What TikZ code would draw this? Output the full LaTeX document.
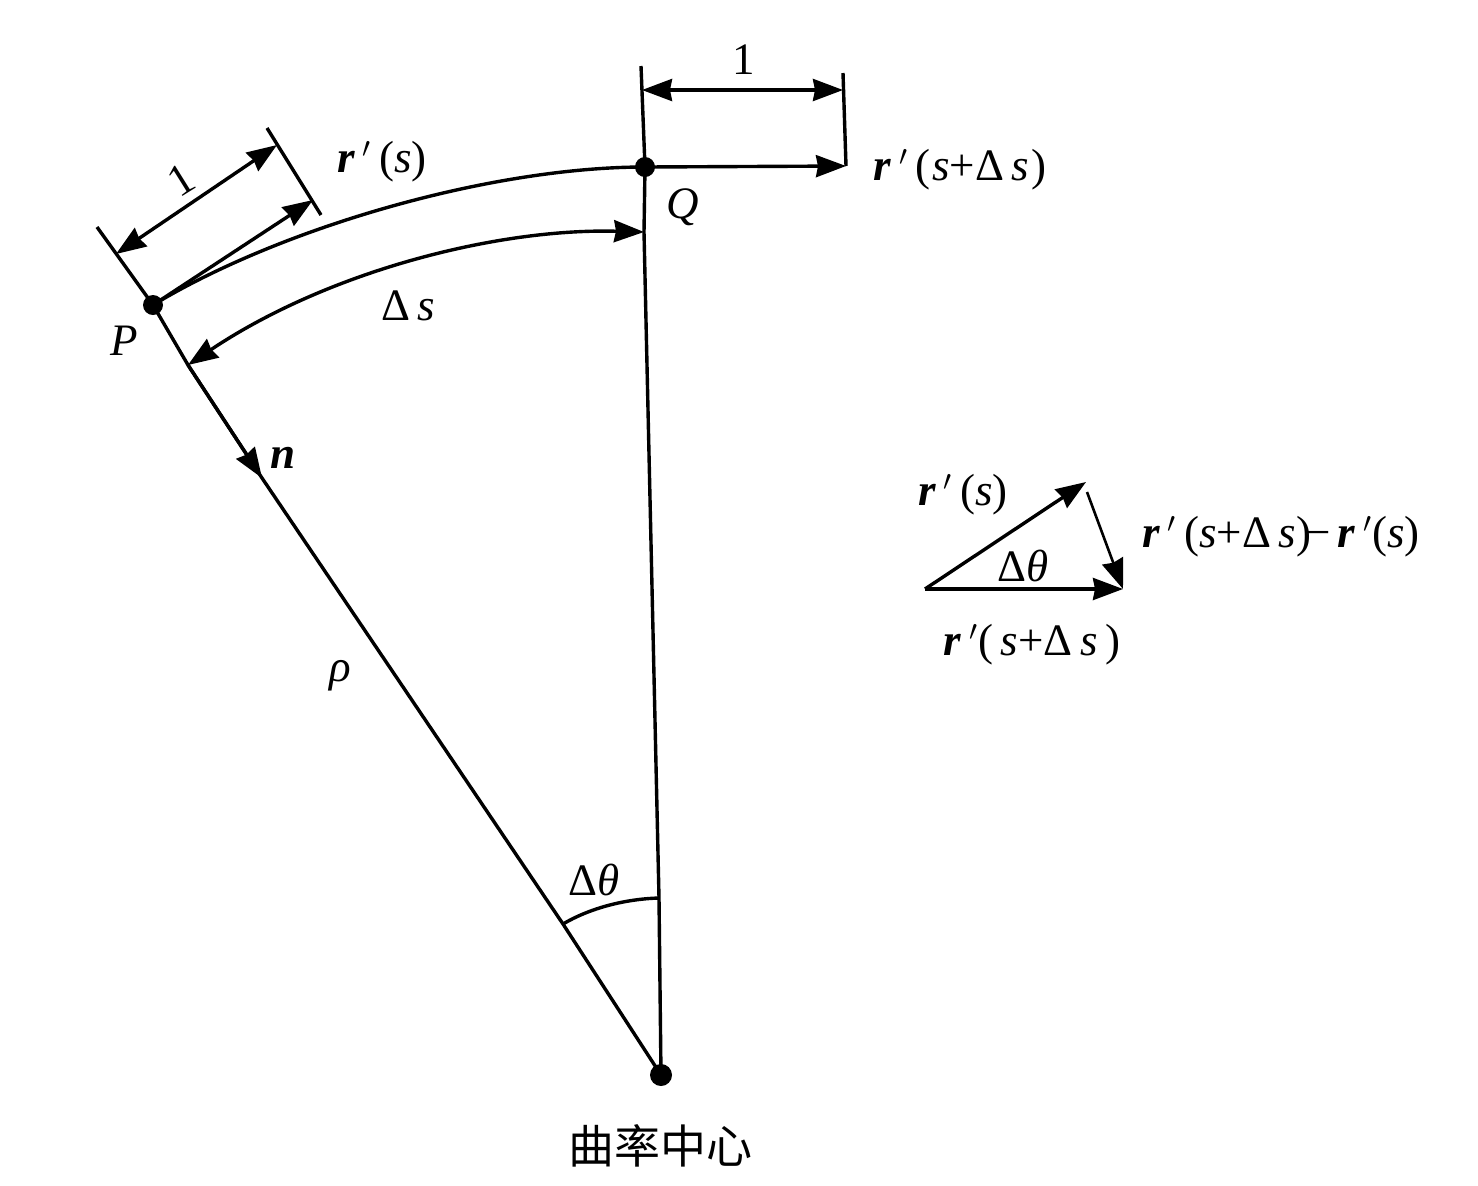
\documentclass[tikz,border=0pt]{standalone}
\usepackage{fontspec}
\setmainfont{Liberation Serif}
\newfontfamily\cjkfont{Noto Sans CJK SC}
\usetikzlibrary{arrows.meta}
\newcommand{\vecr}{\textbf{\textit{r}}\,$'$}
\newcommand{\dlt}{\textup{Δ}}
\tikzset{
  x=0.5pt,y=-0.5pt,
  ln/.style={line width=1.7pt,black},
  thin ln/.style={line width=1.3pt,black},
  tip/.style={-{Stealth[length=15pt,width=11pt,inset=1pt]}},
  tips/.style={{Stealth[length=15pt,width=11pt,inset=1pt]}-{Stealth[length=15pt,width=11pt,inset=1pt]}},
  dotn/.style={circle,fill=black,inner sep=0pt,minimum size=10pt},
  lab/.style={inner sep=0pt,font=\fontsize{22.5}{26}\selectfont},
}
\begin{document}
\begin{tikzpicture}
\useasboundingbox (0,0) rectangle (1478,1185);
% points
\node[dotn] (P) at (153,305) {};
\node[dotn] (Q) at (645,167) {};
\node[dotn,minimum size=11pt] (C) at (661,1075) {};
\coordinate (tanTop) at (97,227);
\coordinate (dsL) at (188,365);
\coordinate (nTip) at (262,478);
\coordinate (angL) at (563,924);
\coordinate (angR) at (659,898);
\coordinate (tick1a) at (267,128);
\coordinate (tick1b) at (321,215);
\coordinate (dimLa) at (116,254);
\coordinate (dimLb) at (277,145);
\coordinate (rsTip) at (313,200);
\coordinate (dsR) at (644,232);
\coordinate (qTop) at (641,66);
\coordinate (rTop) at (843,73);
\coordinate (rEnd) at (846,166);
\coordinate (dimRa) at (642,90);
\coordinate (dimRb) at (843,90);
% left radius and tangent normal line
\draw[ln] (tanTop) -- (P.center) -- (dsL) -- (nTip) -- (angL) -- (C.center);
\draw[ln,tip] (dsL) -- (nTip);
% right radius
\draw[ln] (qTop) -- (Q.center) -- (dsR) -- (angR) -- (C.center);
% curve PQ
\draw[ln] (P.center) .. controls (280,228) and (490,167) .. (Q.center);
% delta s arc
\draw[ln,tips] (dsL) .. controls (330,270) and (500,228) .. (dsR);
% ticks and unit dims, left
\draw[ln] (tick1a) -- (tick1b);
\draw[ln,tips] (dimLa) -- (dimLb);
\draw[ln,tip] (P.center) -- (rsTip);
% ticks and unit dims, right
\draw[ln] (rTop) -- (rEnd);
\draw[ln,tips] (dimRa) -- (dimRb);
\draw[ln,tip] (Q.center) -- (rEnd);
% angle arc
\draw[ln] (angL) .. controls (590,908) and (625,899) .. (angR);
% triangle
\coordinate (A) at (925,589);
\coordinate (B) at (1086,482);
\coordinate (B2) at (1087,492);
\coordinate (D) at (1123,589);
\draw[ln,tip] (A) -- (B);
\draw[ln,tip] (A) -- (D);
\draw[thin ln,tip] (B2) -- (D);
% labels
\node[lab,rotate=32] (oneL) at (181,180) {1};
\node[lab] (oneR) at (744,60) {1};
\node[lab] (lrs) at (382,162) {\vecr\,(\textit{s})};
\node[lab] (lrsd) at (960,170) {\vecr\,(\kern1pt\textit{s}+\dlt\,\textit{s}\kern1pt)};
\node[lab] (lQ) at (683,207) {\textit{Q}};
\node[lab] (lP) at (124,341) {\textit{P}};
\node[lab] (lds) at (408,306) {\dlt\,\textit{s}};
\node[lab] (ln) at (283,458) {\textbf{\textit{n}}};
\node[lab] (lrho) at (340,676) {\textit{ρ}};
\node[lab] (lth) at (594,880) {\dlt\textit{θ}};
\node[lab] (trs) at (963,495) {\vecr\,(\textit{s})};
\node[lab] (tth) at (1023,566) {\dlt\textit{θ}};
\node[lab] (tdiff) at (1281,537) {\vecr\,(\textit{s}+\dlt\,\textit{s})\kern-3pt−\,\vecr(\textit{s})};
\node[lab] (trsd) at (1032,645) {\vecr(\,\textit{s}+\dlt\,\textit{s}\,)};
\node[inner sep=0pt,font=\fontsize{23}{26}\selectfont\cjkfont] (lc) at (660,1146) {曲率中心};
\end{tikzpicture}
\end{document}
